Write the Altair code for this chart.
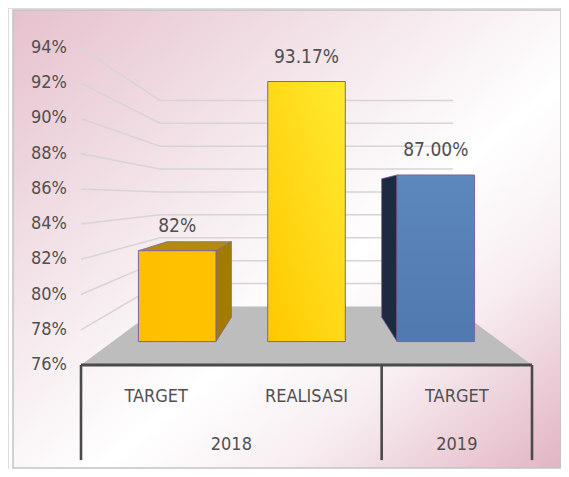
import altair as alt
import pandas as pd

# ---------------- data ----------------
categories = ["TARGET", "REALISASI", "TARGET"]
years = ["2018", "2018", "2019"]
values = [82.0, 93.17, 87.0]
value_labels = ["82%", "93.17%", "87.00%"]
tick_values = [76, 78, 80, 82, 84, 86, 88, 90, 92, 94]
tick_labels = ["76%", "78%", "80%", "82%", "84%", "86%", "88%", "90%", "92%", "94%"]
year_groups = ["2018", "2019"]

# ---------------- styles / 3D geometry ----------------
FONT = "DejaVu Sans Condensed, Liberation Sans Narrow, sans-serif"
TXT = "#505050"
BASE = 76.0
VPX, VPY = 1.5, 85.5          # vanishing point (in data units)
S_BAR_FRONT, S_BAR_BACK, S_WALL = 0.86, 0.714, 0.65
BAR_PAD = 0.2                  # fraction of category band left empty on each side
TABLE_BOTTOM = 70.6
front_fill = [
    {"gradient": "linear", "x1": 0, "y1": 0, "x2": 1, "y2": 0,
     "stops": [{"offset": 0, "color": "#FFBF00"}, {"offset": 1, "color": "#FFC200"}]},
    {"gradient": "linear", "x1": 0, "y1": 1, "x2": 1, "y2": 0,
     "stops": [{"offset": 0, "color": "#FFC800"}, {"offset": 1, "color": "#FFEA30"}]},
    {"gradient": "linear", "x1": 0, "y1": 0, "x2": 0, "y2": 1,
     "stops": [{"offset": 0, "color": "#5D88BD"}, {"offset": 1, "color": "#4F79AF"}]},
]
side_colors = ["#A27C00", "#C9A000", "#1D2A40"]
top_colors = ["#B38A0C", "#D8B000", "#2A3D5E"]
OUTLINE = "#7B64A0"

X = alt.Scale(domain=[0, 3], range=[73, 524], zero=False, nice=False)
Y = alt.Scale(domain=[76, 94], range=[357, 40], zero=False, nice=False)


def proj(x, v, s):
    return VPX + (x - VPX) * s, VPY + (v - VPY) * s


# ---------------- background frame ----------------
bg_grad = {"gradient": "linear", "x1": 0, "y1": 0, "x2": 1, "y2": 1,
           "stops": [{"offset": 0, "color": "#E6C1CD"},
                     {"offset": 0.4, "color": "#F6EDF0"},
                     {"offset": 0.58, "color": "#FFFFFF"},
                     {"offset": 0.75, "color": "#F7EEF1"},
                     {"offset": 1, "color": "#E2B4C3"}]}
background = alt.Chart(pd.DataFrame({"a": [0]})).mark_rect(
    fill=bg_grad, stroke="#C4C4C4", strokeWidth=1.5
).encode(x=alt.value(5), x2=alt.value(553), y=alt.value(2), y2=alt.value(460))

# ---------------- gridlines (side wall + back wall) ----------------
g_rows = []
for v in tick_values[1:]:
    pts = [(0.0, float(v)), proj(0, v, S_WALL), proj(3, v, S_WALL)]
    for o, (px, py) in enumerate(pts):
        g_rows.append({"v": v, "o": o, "x": px, "y": py})
grid = alt.Chart(pd.DataFrame(g_rows)).mark_line(color="#D8D4D6", strokeWidth=1.5).encode(
    x=alt.X("x:Q", scale=X, axis=None),
    y=alt.Y("y:Q", scale=Y, axis=None),
    detail="v:N", order="o:Q")

# ---------------- floor ----------------
fb = proj(0, BASE, S_WALL)
fr = proj(3, BASE, S_WALL)
floor_df = pd.DataFrame([
    {"y": BASE, "x": 0.0, "x2": 3.0},
    {"y": fb[1], "x": fb[0], "x2": fr[0]},
])
floor = alt.Chart(floor_df).mark_area(orient="horizontal", color="#BDBDBD").encode(
    y=alt.Y("y:Q", scale=Y, axis=None),
    x=alt.X("x:Q", scale=X, axis=None),
    x2="x2:Q")

# ---------------- bars ----------------
side_rows, top_rows, front_layers, lab_rows = [], [], [], []
for i, (cat, val) in enumerate(zip(categories, values)):
    x0, x1 = i + BAR_PAD, i + 1 - BAR_PAD
    fl = proj(x0, val, S_BAR_FRONT)
    fr_ = proj(x1, BASE, S_BAR_FRONT)
    # visible side face
    if x1 < VPX:
        ex = x1
    elif x0 > VPX:
        ex = x0
    else:
        ex = None
    if ex is not None:
        for s in (S_BAR_FRONT, S_BAR_BACK):
            px, pt = proj(ex, val, s)
            _, pb = proj(ex, BASE, s)
            side_rows.append({"bar": i, "x": px, "y": pt, "y2": pb, "c": side_colors[i]})
    # visible top face
    if val < VPY:
        for s in (S_BAR_FRONT, S_BAR_BACK):
            a, yy = proj(x0, val, s)
            b, _ = proj(x1, val, s)
            top_rows.append({"bar": i, "y": yy, "x": a, "x2": b, "c": top_colors[i]})
    fdf = pd.DataFrame([{"cat": cat, "x": fl[0], "x2": fr_[0], "y": fl[1], "y2": fr_[1]}])
    front_layers.append(
        alt.Chart(fdf).mark_rect(fill=front_fill[i], stroke=OUTLINE, strokeWidth=1).encode(
            x=alt.X("x:Q", scale=X, axis=None), x2="x2:Q",
            y=alt.Y("y:Q", scale=Y, axis=None), y2="y2:Q"))
    cx, cy = proj(i + 0.5, val, S_BAR_FRONT)
    lab_rows.append({"x": cx, "y": cy, "t": value_labels[i]})

layers = []
if side_rows:
    layers.append(alt.Chart(pd.DataFrame(side_rows)).mark_area(
        stroke=OUTLINE, strokeWidth=0.8).encode(
        x=alt.X("x:Q", scale=X, axis=None),
        y=alt.Y("y:Q", scale=Y, axis=None), y2="y2:Q",
        detail="bar:N", color=alt.Color("c:N", scale=None)))
if top_rows:
    layers.append(alt.Chart(pd.DataFrame(top_rows)).mark_area(
        orient="horizontal", stroke=OUTLINE, strokeWidth=0.8).encode(
        y=alt.Y("y:Q", scale=Y, axis=None),
        x=alt.X("x:Q", scale=X, axis=None), x2="x2:Q",
        detail="bar:N", color=alt.Color("c:N", scale=None)))

value_text = alt.Chart(pd.DataFrame(lab_rows)).mark_text(
    font=FONT, fontSize=19, color=TXT, dy=-25, baseline="middle").encode(
    x=alt.X("x:Q", scale=X, axis=None), y=alt.Y("y:Q", scale=Y, axis=None), text="t:N")

# ---------------- axis labels & category table ----------------
tick_df = pd.DataFrame({"x": [0.0] * len(tick_values), "y": tick_values, "t": tick_labels})
tick_text = alt.Chart(tick_df).mark_text(
    font=FONT, fontSize=18, color=TXT, align="right", baseline="middle", dx=-14).encode(
    x=alt.X("x:Q", scale=X, axis=None), y=alt.Y("y:Q", scale=Y, axis=None), text="t:N")

cat_df = pd.DataFrame({"x": [i + 0.5 for i in range(len(categories))],
                       "y": [BASE] * len(categories), "t": categories})
cat_text = alt.Chart(cat_df).mark_text(
    font=FONT, fontSize=18, color=TXT, baseline="middle", dy=32).encode(
    x=alt.X("x:Q", scale=X, axis=None), y=alt.Y("y:Q", scale=Y, axis=None), text="t:N")

yr_rows, bounds = [], [0.0]
for g in year_groups:
    idx = [i for i, y in enumerate(years) if y == g]
    yr_rows.append({"x": (idx[0] + idx[-1] + 1) / 2, "y": BASE, "t": g})
    bounds.append(float(idx[-1] + 1))
yr_text = alt.Chart(pd.DataFrame(yr_rows)).mark_text(
    font=FONT, fontSize=18, color=TXT, baseline="middle", dy=80).encode(
    x=alt.X("x:Q", scale=X, axis=None), y=alt.Y("y:Q", scale=Y, axis=None), text="t:N")

line_rows = [{"x": 0.0, "x2": 3.0, "y": BASE, "y2": BASE, "w": 3.2}]
for b in bounds:
    line_rows.append({"x": b, "x2": b, "y": BASE, "y2": TABLE_BOTTOM, "w": 2.6})
table_lines = alt.Chart(pd.DataFrame(line_rows)).mark_rule(color="#4A4A4A").encode(
    x=alt.X("x:Q", scale=X, axis=None), x2="x2:Q",
    y=alt.Y("y:Q", scale=Y, axis=None), y2="y2:Q",
    strokeWidth=alt.StrokeWidth("w:Q", scale=None))

chart = alt.layer(
    background, grid, floor, *layers, *front_layers, value_text,
    table_lines, tick_text, cat_text, yr_text
).properties(
    width=553, height=461,
    autosize=alt.AutoSizeParams(type="none"), padding=0,
).configure_view(stroke=None).configure(background="white")

chart.save("out.html", embed_options={"renderer": "svg", "actions": False})
